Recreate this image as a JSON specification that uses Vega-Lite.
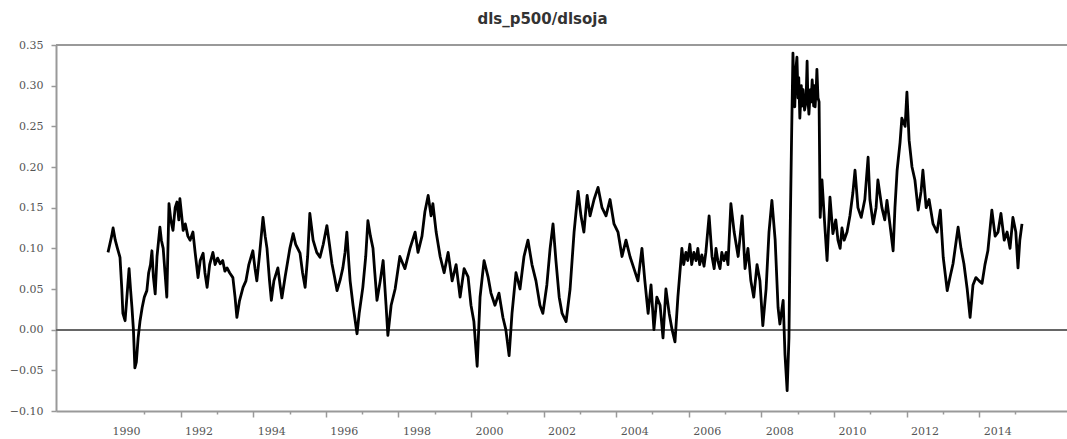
{
  "$schema": "https://vega.github.io/schema/vega-lite/v6.json",
  "width": 1011,
  "height": 366,
  "autosize": {"type": "none"},
  "padding": {"left": 56, "top": 45, "right": 0, "bottom": 28},
  "background": "white",
  "config": {"view": {"stroke": null}},
  "title": {"text": "dls_p500/dlsoja", "font": "DejaVu Sans", "fontSize": 15, "fontWeight": "bold", "color": "#333333", "offset": 12, "dx": -19},
  "data": {"values": [
    {"t":1990.00,"v":0.095},{"t":1990.05,"v":0.105},{"t":1990.10,"v":0.115},{"t":1990.14,"v":0.125},{"t":1990.20,"v":0.110},
    {"t":1990.26,"v":0.100},{"t":1990.33,"v":0.089},{"t":1990.38,"v":0.050},{"t":1990.41,"v":0.020},{"t":1990.47,"v":0.011},
    {"t":1990.52,"v":0.040},{"t":1990.58,"v":0.075},{"t":1990.62,"v":0.050},{"t":1990.66,"v":0.027},{"t":1990.70,"v":0.000},
    {"t":1990.74,"v":-0.047},{"t":1990.78,"v":-0.040},{"t":1990.83,"v":-0.010},{"t":1990.88,"v":0.010},{"t":1990.94,"v":0.027},
    {"t":1991.00,"v":0.040},{"t":1991.07,"v":0.048},{"t":1991.12,"v":0.070},{"t":1991.17,"v":0.080},{"t":1991.21,"v":0.097},
    {"t":1991.25,"v":0.065},{"t":1991.30,"v":0.044},{"t":1991.35,"v":0.090},{"t":1991.43,"v":0.126},{"t":1991.47,"v":0.110},
    {"t":1991.52,"v":0.100},{"t":1991.57,"v":0.070},{"t":1991.62,"v":0.040},{"t":1991.68,"v":0.155},{"t":1991.73,"v":0.135},
    {"t":1991.79,"v":0.122},{"t":1991.85,"v":0.150},{"t":1991.90,"v":0.157},{"t":1991.95,"v":0.135},{"t":1991.98,"v":0.161},
    {"t":1992.03,"v":0.140},{"t":1992.07,"v":0.122},{"t":1992.13,"v":0.130},{"t":1992.20,"v":0.115},{"t":1992.26,"v":0.110},
    {"t":1992.34,"v":0.120},{"t":1992.40,"v":0.095},{"t":1992.48,"v":0.064},{"t":1992.54,"v":0.085},{"t":1992.62,"v":0.094},
    {"t":1992.67,"v":0.070},{"t":1992.73,"v":0.052},{"t":1992.80,"v":0.080},{"t":1992.89,"v":0.095},{"t":1992.95,"v":0.080},
    {"t":1993.02,"v":0.088},{"t":1993.09,"v":0.081},{"t":1993.16,"v":0.085},{"t":1993.22,"v":0.072},{"t":1993.28,"v":0.076},
    {"t":1993.35,"v":0.070},{"t":1993.44,"v":0.064},{"t":1993.50,"v":0.040},{"t":1993.55,"v":0.015},{"t":1993.62,"v":0.035},
    {"t":1993.72,"v":0.052},{"t":1993.80,"v":0.060},{"t":1993.88,"v":0.080},{"t":1993.99,"v":0.097},{"t":1994.05,"v":0.075},
    {"t":1994.10,"v":0.060},{"t":1994.17,"v":0.090},{"t":1994.27,"v":0.138},{"t":1994.33,"v":0.115},{"t":1994.38,"v":0.100},
    {"t":1994.45,"v":0.060},{"t":1994.50,"v":0.036},{"t":1994.57,"v":0.060},{"t":1994.68,"v":0.076},{"t":1994.74,"v":0.055},
    {"t":1994.79,"v":0.039},{"t":1994.88,"v":0.065},{"t":1995.01,"v":0.100},{"t":1995.10,"v":0.118},{"t":1995.17,"v":0.105},
    {"t":1995.29,"v":0.094},{"t":1995.36,"v":0.070},{"t":1995.43,"v":0.052},{"t":1995.50,"v":0.090},{"t":1995.56,"v":0.143},
    {"t":1995.61,"v":0.125},{"t":1995.65,"v":0.110},{"t":1995.75,"v":0.095},{"t":1995.84,"v":0.089},{"t":1995.93,"v":0.105},
    {"t":1996.03,"v":0.128},{"t":1996.10,"v":0.105},{"t":1996.17,"v":0.081},{"t":1996.24,"v":0.065},{"t":1996.31,"v":0.048},
    {"t":1996.40,"v":0.062},{"t":1996.47,"v":0.076},{"t":1996.53,"v":0.095},{"t":1996.58,"v":0.120},{"t":1996.63,"v":0.085},
    {"t":1996.67,"v":0.060},{"t":1996.75,"v":0.030},{"t":1996.86,"v":-0.005},{"t":1996.92,"v":0.020},{"t":1997.02,"v":0.052},
    {"t":1997.10,"v":0.090},{"t":1997.16,"v":0.134},{"t":1997.23,"v":0.115},{"t":1997.30,"v":0.100},{"t":1997.35,"v":0.070},
    {"t":1997.41,"v":0.036},{"t":1997.50,"v":0.060},{"t":1997.58,"v":0.085},{"t":1997.66,"v":0.030},{"t":1997.71,"v":-0.007},
    {"t":1997.80,"v":0.030},{"t":1997.91,"v":0.050},{"t":1998.04,"v":0.090},{"t":1998.18,"v":0.075},{"t":1998.32,"v":0.100},
    {"t":1998.46,"v":0.120},{"t":1998.54,"v":0.095},{"t":1998.65,"v":0.115},{"t":1998.73,"v":0.145},{"t":1998.82,"v":0.165},
    {"t":1998.90,"v":0.140},{"t":1998.95,"v":0.155},{"t":1999.04,"v":0.120},{"t":1999.15,"v":0.090},{"t":1999.26,"v":0.070},
    {"t":1999.37,"v":0.095},{"t":1999.48,"v":0.060},{"t":1999.59,"v":0.080},{"t":1999.70,"v":0.040},{"t":1999.81,"v":0.075},
    {"t":1999.92,"v":0.065},{"t":2000.00,"v":0.030},{"t":2000.08,"v":0.010},{"t":2000.17,"v":-0.045},{"t":2000.25,"v":0.040},
    {"t":2000.36,"v":0.085},{"t":2000.47,"v":0.065},{"t":2000.55,"v":0.045},{"t":2000.66,"v":0.030},{"t":2000.77,"v":0.045},
    {"t":2000.88,"v":0.015},{"t":2000.96,"v":0.000},{"t":2001.05,"v":-0.032},{"t":2001.13,"v":0.020},{"t":2001.24,"v":0.070},
    {"t":2001.35,"v":0.050},{"t":2001.46,"v":0.090},{"t":2001.57,"v":0.110},{"t":2001.68,"v":0.080},{"t":2001.79,"v":0.060},
    {"t":2001.90,"v":0.030},{"t":2001.98,"v":0.020},{"t":2002.09,"v":0.055},{"t":2002.18,"v":0.100},{"t":2002.26,"v":0.130},
    {"t":2002.34,"v":0.085},{"t":2002.43,"v":0.040},{"t":2002.51,"v":0.020},{"t":2002.62,"v":0.010},{"t":2002.73,"v":0.050},
    {"t":2002.84,"v":0.120},{"t":2002.95,"v":0.170},{"t":2003.03,"v":0.140},{"t":2003.11,"v":0.120},{"t":2003.20,"v":0.165},
    {"t":2003.28,"v":0.140},{"t":2003.39,"v":0.160},{"t":2003.50,"v":0.175},{"t":2003.61,"v":0.150},{"t":2003.72,"v":0.140},
    {"t":2003.83,"v":0.160},{"t":2003.94,"v":0.130},{"t":2004.05,"v":0.120},{"t":2004.16,"v":0.090},{"t":2004.27,"v":0.110},
    {"t":2004.38,"v":0.090},{"t":2004.49,"v":0.075},{"t":2004.60,"v":0.060},{"t":2004.71,"v":0.100},{"t":2004.79,"v":0.060},
    {"t":2004.88,"v":0.020},{"t":2004.96,"v":0.055},{"t":2005.04,"v":0.000},{"t":2005.12,"v":0.040},{"t":2005.21,"v":0.030},
    {"t":2005.29,"v":-0.010},{"t":2005.37,"v":0.050},{"t":2005.46,"v":0.020},{"t":2005.54,"v":0.000},{"t":2005.62,"v":-0.015},
    {"t":2005.70,"v":0.040},{"t":2005.81,"v":0.100},{"t":2005.86,"v":0.080},{"t":2005.92,"v":0.095},{"t":2005.97,"v":0.085},{"t":2006.03,"v":0.105},{"t":2006.08,"v":0.080},{"t":2006.14,"v":0.095},
    {"t":2006.20,"v":0.085},{"t":2006.25,"v":0.100},{"t":2006.30,"v":0.080},{"t":2006.36,"v":0.092},{"t":2006.42,"v":0.078},{"t":2006.47,"v":0.095},{"t":2006.56,"v":0.140},{"t":2006.64,"v":0.090},
    {"t":2006.70,"v":0.075},{"t":2006.75,"v":0.100},{"t":2006.80,"v":0.085},{"t":2006.86,"v":0.075},{"t":2006.91,"v":0.095},{"t":2006.97,"v":0.085},{"t":2007.03,"v":0.095},{"t":2007.08,"v":0.080},{"t":2007.16,"v":0.155},
    {"t":2007.25,"v":0.120},{"t":2007.36,"v":0.090},{"t":2007.47,"v":0.140},{"t":2007.55,"v":0.075},{"t":2007.63,"v":0.100},
    {"t":2007.71,"v":0.060},{"t":2007.79,"v":0.040},{"t":2007.88,"v":0.080},{"t":2007.96,"v":0.060},{"t":2008.04,"v":0.005},
    {"t":2008.13,"v":0.050},{"t":2008.21,"v":0.120},{"t":2008.29,"v":0.159},{"t":2008.38,"v":0.110},{"t":2008.46,"v":0.027},
    {"t":2008.51,"v":0.007},{"t":2008.60,"v":0.036},{"t":2008.65,"v":-0.030},{"t":2008.71,"v":-0.075},{"t":2008.76,"v":-0.010},
    {"t":2008.79,"v":0.110},{"t":2008.83,"v":0.230},{"t":2008.87,"v":0.340},{"t":2008.90,"v":0.290},{"t":2008.92,"v":0.274},
    {"t":2008.95,"v":0.320},{"t":2008.98,"v":0.335},{"t":2009.01,"v":0.285},{"t":2009.03,"v":0.310},{"t":2009.06,"v":0.260},
    {"t":2009.10,"v":0.300},{"t":2009.12,"v":0.275},{"t":2009.15,"v":0.295},{"t":2009.19,"v":0.270},{"t":2009.23,"v":0.280},
    {"t":2009.26,"v":0.330},{"t":2009.28,"v":0.285},{"t":2009.31,"v":0.265},{"t":2009.35,"v":0.295},{"t":2009.37,"v":0.280},
    {"t":2009.40,"v":0.307},{"t":2009.44,"v":0.275},{"t":2009.46,"v":0.300},{"t":2009.48,"v":0.274},{"t":2009.51,"v":0.295},
    {"t":2009.53,"v":0.320},{"t":2009.56,"v":0.285},{"t":2009.59,"v":0.280},{"t":2009.62,"v":0.138},
    {"t":2009.67,"v":0.184},{"t":2009.75,"v":0.126},{"t":2009.81,"v":0.085},{"t":2009.89,"v":0.163},{"t":2009.97,"v":0.118},
    {"t":2010.05,"v":0.135},{"t":2010.11,"v":0.110},{"t":2010.17,"v":0.100},{"t":2010.22,"v":0.125},{"t":2010.28,"v":0.110},{"t":2010.36,"v":0.120},{"t":2010.44,"v":0.140},
    {"t":2010.52,"v":0.168},{"t":2010.58,"v":0.196},{"t":2010.66,"v":0.150},{"t":2010.75,"v":0.138},{"t":2010.85,"v":0.160},
    {"t":2010.94,"v":0.212},{"t":2010.99,"v":0.160},{"t":2011.08,"v":0.130},{"t":2011.16,"v":0.150},{"t":2011.21,"v":0.184},
    {"t":2011.32,"v":0.150},{"t":2011.40,"v":0.135},{"t":2011.46,"v":0.159},{"t":2011.54,"v":0.130},{"t":2011.63,"v":0.097},{"t":2011.68,"v":0.150},
    {"t":2011.74,"v":0.196},{"t":2011.82,"v":0.230},{"t":2011.87,"v":0.260},{"t":2011.96,"v":0.250},{"t":2012.01,"v":0.292},
    {"t":2012.07,"v":0.233},{"t":2012.15,"v":0.200},{"t":2012.23,"v":0.184},{"t":2012.32,"v":0.147},{"t":2012.40,"v":0.170},
    {"t":2012.45,"v":0.196},{"t":2012.54,"v":0.150},{"t":2012.62,"v":0.160},{"t":2012.73,"v":0.130},{"t":2012.84,"v":0.120},
    {"t":2012.93,"v":0.147},{"t":2013.01,"v":0.089},{"t":2013.12,"v":0.048},{"t":2013.20,"v":0.065},{"t":2013.28,"v":0.081},
    {"t":2013.37,"v":0.110},{"t":2013.42,"v":0.126},{"t":2013.50,"v":0.100},{"t":2013.58,"v":0.081},{"t":2013.67,"v":0.050},
    {"t":2013.75,"v":0.015},{"t":2013.83,"v":0.055},{"t":2013.91,"v":0.064},{"t":2014.00,"v":0.060},{"t":2014.08,"v":0.057},
    {"t":2014.16,"v":0.080},{"t":2014.24,"v":0.097},{"t":2014.35,"v":0.147},{"t":2014.44,"v":0.115},{"t":2014.52,"v":0.120},
    {"t":2014.60,"v":0.143},{"t":2014.69,"v":0.110},{"t":2014.77,"v":0.120},{"t":2014.85,"v":0.100},{"t":2014.93,"v":0.138},
    {"t":2015.01,"v":0.120},{"t":2015.07,"v":0.076},{"t":2015.12,"v":0.110},{"t":2015.18,"v":0.130}
  ]},
  "layer": [
    {
      "mark": {"type": "rule", "color": "#666666", "strokeWidth": 1.5},
      "encoding": {"y": {"datum": 0, "type": "quantitative", "scale": {"domain": [-0.1, 0.35], "nice": false, "zero": false}}}
    },
    {
      "mark": {"type": "rule", "color": "#999999", "strokeWidth": 2},
      "encoding": {"y": {"datum": 0.35, "type": "quantitative"}}
    },
    {
      "mark": {"type": "line", "color": "black", "strokeWidth": 2.8, "interpolate": "linear", "strokeJoin": "round"},
      "encoding": {
        "x": {
          "field": "t", "type": "quantitative",
          "scale": {"domain": [1988.567, 2016.42], "nice": false, "zero": false},
          "axis": {
            "title": null, "grid": false,
            "values": [1990,1991,1992,1993,1994,1995,1996,1997,1998,1999,2000,2001,2002,2003,2004,2005,2006,2007,2008,2009,2010,2011,2012,2013,2014,2015],
            "tickSize": {"condition": {"test": "datum.value % 2 === 0", "value": 6}, "value": 3},
            "tickOpacity": {"condition": {"test": "datum.value === 1990", "value": 0}, "value": 1},
            "labelExpr": "datum.value % 2 === 0 ? format(datum.value, 'd') : ''",
            "labelOffset": 18, "labelOverlap": false, "labelFlush": false,
            "labelFont": "DejaVu Serif", "labelFontSize": 11, "labelColor": "#555555", "labelPadding": 8,
            "domainColor": "#999999", "domainWidth": 2, "tickColor": "#999999", "tickWidth": 1.5
          }
        },
        "y": {
          "field": "v", "type": "quantitative",
          "scale": {"domain": [-0.1, 0.35], "nice": false, "zero": false},
          "axis": {
            "title": null, "grid": false,
            "values": [-0.1,-0.05,0,0.05,0.1,0.15,0.2,0.25,0.3,0.35],
            "format": ".2f", "tickSize": 5, "labelPadding": 8,
            "labelFont": "DejaVu Serif", "labelFontSize": 11, "labelColor": "#555555",
            "domainColor": "#999999", "domainWidth": 2, "tickColor": "#999999", "tickWidth": 1.5
          }
        }
      }
    }
  ]
}
